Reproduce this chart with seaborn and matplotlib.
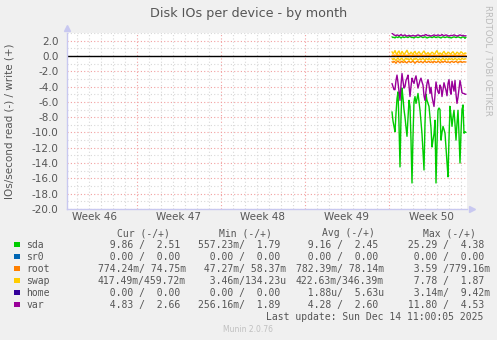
import numpy as np
import pandas as pd
import matplotlib
matplotlib.use("Agg")
import matplotlib.pyplot as plt
import matplotlib.dates as mdates
from matplotlib.patches import Rectangle
import seaborn as sns

W, H = 497, 340

# ---------------- data ----------------
series_start = "2025-12-08 06:00"
step = "2h"

sda_read = [7.3, 8.5, 9.2, 9.9, 7.5, 5.6, 4.7, 9.0, 14.5, 8.0, 4.2, 5.5, 7.0, 8.0, 9.3,
            10.5, 8.1, 5.8, 6.6, 11.0, 16.6, 10.5, 6.0, 5.3, 6.2, 5.6, 4.9, 6.0, 7.1, 8.6,
            10.2, 12.5, 14.9, 8.8, 5.0, 5.8, 6.2, 6.6, 8.0, 9.4, 11.9, 11.0, 10.2, 8.4, 16.6,
            11.5, 7.1, 6.8, 7.0, 11.0, 10.0, 9.2, 9.6, 10.1, 12.0, 13.9, 15.8, 10.8, 6.6, 7.8,
            9.2, 8.0, 7.1, 8.9, 11.0, 8.8, 7.1, 10.3, 14.0, 10.0, 7.0, 6.4, 10.1, 9.9, 10.0]
sda_write = [2.50, 2.40, 2.45, 2.35, 2.50, 2.45, 2.40, 2.55, 2.45, 2.35, 2.45, 2.50, 2.40, 2.45, 2.50,
             2.45, 2.40, 2.50, 2.55, 2.45, 2.40, 2.45, 2.35, 2.45, 2.50, 2.45, 2.40, 2.45, 2.50, 2.55,
             2.45, 2.40, 2.45, 2.50, 2.45, 2.35, 2.40, 2.45, 2.50, 2.45, 2.40, 2.45, 2.55, 2.45, 2.40,
             2.45, 2.50, 2.45, 2.40, 2.35, 2.45, 2.50, 2.45, 2.40, 2.45, 2.50, 2.45, 2.40, 2.45, 2.35,
             2.40, 2.45, 2.50, 2.45, 2.40, 2.45, 2.50, 2.45, 2.40, 2.35, 2.45, 2.50, 2.45, 2.30, 2.45]
root_read = [0.75, 0.85, 0.70, 0.80, 0.95, 0.75, 0.65, 0.80, 0.90, 0.75, 0.70, 0.85, 0.80, 0.70, 0.85,
             0.90, 0.75, 0.70, 0.80, 0.85, 0.75, 0.65, 0.80, 0.95, 0.80, 0.70, 0.75, 0.85, 0.80, 0.70,
             0.80, 0.90, 0.75, 0.65, 0.80, 0.85, 0.75, 0.70, 0.85, 0.80, 0.75, 0.90, 0.70, 0.75, 0.85,
             0.80, 0.70, 0.75, 0.90, 0.80, 0.70, 0.85, 0.75, 0.65, 0.80, 0.85, 0.75, 0.80, 0.90, 0.75,
             0.70, 0.80, 0.85, 0.75, 0.70, 0.80, 0.90, 0.75, 0.80, 0.70, 0.85, 0.80, 0.75, 0.80, 0.78]
root_write = [0.08, 0.07, 0.09, 0.08, 0.06, 0.08, 0.10, 0.07, 0.08, 0.09, 0.07, 0.08, 0.06, 0.09, 0.08,
              0.07, 0.09, 0.08, 0.06, 0.08, 0.07, 0.09, 0.10, 0.08, 0.07, 0.08, 0.09, 0.07, 0.08, 0.06,
              0.09, 0.08, 0.07, 0.08, 0.10, 0.07, 0.08, 0.09, 0.06, 0.08, 0.07, 0.08, 0.09, 0.08, 0.07,
              0.08, 0.06, 0.09, 0.08, 0.07, 0.08, 0.10, 0.07, 0.08, 0.09, 0.07, 0.08, 0.06, 0.08, 0.09,
              0.07, 0.08, 0.09, 0.08, 0.07, 0.06, 0.08, 0.09, 0.07, 0.08, 0.10, 0.08, 0.07, 0.08, 0.07]
swap_read = [0.35, 0.50, 0.30, 0.45, 0.60, 0.40, 0.25, 0.45, 0.55, 0.35, 0.30, 0.50, 0.65, 0.40, 0.30,
             0.45, 0.35, 0.55, 0.40, 0.30, 0.50, 0.60, 0.35, 0.45, 0.30, 0.40, 0.55, 0.45, 0.35, 0.50,
             0.40, 0.30, 0.45, 0.60, 0.35, 0.40, 0.50, 0.30, 0.45, 0.55, 0.40, 0.35, 0.50, 0.45, 0.30,
             0.40, 0.55, 0.35, 0.45, 0.60, 0.40, 0.30, 0.45, 0.50, 0.35, 0.40, 0.55, 0.30, 0.45, 0.40,
             0.35, 0.50, 0.45, 0.30, 0.40, 0.55, 0.40, 0.35, 0.50, 0.45, 0.30, 0.40, 0.45, 0.35, 0.40]
swap_write = [0.55, 0.30, 0.45, 0.70, 0.35, 0.20, 0.50, 0.65, 0.30, 0.25, 0.60, 0.40, 0.20, 0.35, 0.55,
              0.75, 0.40, 0.25, 0.30, 0.50, 0.35, 0.20, 0.45, 0.60, 0.30, 0.25, 0.40, 0.55, 0.35, 0.20,
              0.30, 0.50, 0.65, 0.35, 0.25, 0.30, 0.45, 0.30, 0.20, 0.35, 0.50, 0.40, 0.25, 0.30, 0.55,
              0.70, 0.35, 0.25, 0.40, 0.30, 0.20, 0.45, 0.60, 0.35, 0.25, 0.30, 0.50, 0.40, 0.30, 0.25,
              0.45, 0.55, 0.35, 0.20, 0.30, 0.50, 0.40, 0.25, 0.35, 0.55, 0.45, 0.30, 0.25, 0.40, 0.35]
var_read = [3.6, 4.0, 4.4, 4.4, 3.2, 2.5, 3.5, 4.6, 5.8, 3.8, 2.3, 3.3, 4.2, 4.0, 3.2,
            2.9, 2.5, 3.9, 5.3, 4.0, 2.9, 3.3, 3.6, 3.0, 2.6, 3.4, 4.2, 3.7, 3.2, 2.9,
            3.4, 3.8, 5.2, 5.8, 4.6, 3.6, 3.1, 3.8, 4.9, 4.1, 5.3, 6.0, 6.6, 5.1, 3.4,
            4.2, 4.7, 4.9, 3.8, 4.1, 5.3, 4.4, 3.5, 4.0, 4.5, 5.2, 3.6, 3.1, 4.4, 5.0,
            3.3, 4.0, 4.6, 3.2, 5.0, 6.2, 5.4, 4.3, 3.2, 3.9, 4.8, 4.9, 4.9, 5.0, 5.0]
var_write = [3.00, 2.85, 2.75, 2.70, 2.65, 2.75, 2.70, 2.65, 2.70, 2.80, 2.70, 2.65, 2.70, 2.75, 2.65,
             2.60, 2.65, 2.70, 2.65, 2.60, 2.65, 2.70, 2.65, 2.60, 2.65, 2.70, 2.75, 2.70, 2.65, 2.60,
             2.65, 2.70, 2.65, 2.75, 2.80, 2.70, 2.65, 2.70, 2.65, 2.60, 2.65, 2.70, 2.75, 2.70, 2.65,
             2.70, 2.75, 2.70, 2.65, 2.70, 2.80, 2.70, 2.65, 2.70, 2.75, 2.70, 2.65, 2.60, 2.65, 2.70,
             2.65, 2.70, 2.75, 2.70, 2.65, 2.60, 2.65, 2.70, 2.75, 2.70, 2.65, 2.70, 2.65, 2.60, 2.65]

devices = ["sda", "sr0", "root", "swap", "home", "var"]
colors = ["#00cc00", "#0066b3", "#ff8000", "#ffcc00", "#330099", "#990099"]
cur_vals = ["  9.86 /  2.51 ", "  0.00 /  0.00 ", "774.24m/ 74.75m", "417.49m/459.72m", "  0.00 /  0.00 ", "  4.83 /  2.66 "]
min_vals = ["557.23m/  1.79 ", "  0.00 /  0.00 ", " 47.27m/ 58.37m", "  3.46m/134.23u", "  0.00 /  0.00 ", "256.16m/  1.89 "]
avg_vals = ["  9.16 /  2.45 ", "  0.00 /  0.00 ", "782.39m/ 78.14m", "422.63m/346.39m", "  1.88u/  5.63u", "  4.28 /  2.60 "]
max_vals = [" 25.29 /  4.38 ", "  0.00 /  0.00 ", "  3.59 /779.16m", "  7.78 /  1.87 ", "  3.14m/  9.42m", " 11.80 /  4.53 "]
week_labels = ["Week 46", "Week 47", "Week 48", "Week 49", "Week 50"]
week_centers = ["2025-11-13 12:00", "2025-11-20 12:00", "2025-11-27 12:00", "2025-12-04 12:00", "2025-12-11 12:00"]

# ---------------- figure ----------------
sns.set_style("white")
plt.rcParams["font.family"] = ["DejaVu Sans"]

n = len(sda_read)
t = pd.date_range(series_start, periods=n, freq=step)

fig = plt.figure(figsize=(W / 100, H / 100), dpi=100, facecolor="#f0f0f0")
ax = fig.add_axes([67 / W, 1 - 209 / H, 400 / W, 176 / H])
ax.set_facecolor("white")

x0 = pd.Timestamp("2025-11-11 04:00")
x1 = pd.Timestamp("2025-12-14 12:00")

# grid
ax.xaxis.set_major_locator(mdates.WeekdayLocator(byweekday=mdates.MO))
ax.xaxis.set_minor_locator(mdates.DayLocator())
ax.set_yticks(np.arange(-20, 3, 2))
ax.set_yticks(np.arange(-20, 4, 1), minor=True)
ax.set_yticklabels([f"{v:.1f}" for v in np.arange(-20, 3, 2)])
ax.grid(which="major", color="#f2a0a0", linestyle=(0, (1, 2)), linewidth=0.8)
ax.grid(which="minor", color="#d8d8d8", linestyle=(0, (1, 2)), linewidth=0.8)
ax.set_axisbelow(True)
ax.tick_params(axis="x", which="both", length=0, labelbottom=False)
ax.tick_params(axis="y", which="major", length=3, color="#f2a0a0", labelsize=7.5,
               labelcolor="#555555", pad=3)
ax.tick_params(axis="y", which="minor", length=0)
for s in ["top", "right"]:
    ax.spines[s].set_visible(False)
for s in ["left", "bottom"]:
    ax.spines[s].set_color("#c8c8f0")
    ax.spines[s].set_linewidth(1.0)

ax.axhline(0, color="black", lw=1.0, zorder=2)

read_series = [sda_read, None, root_read, swap_read, None, var_read]
write_series = [sda_write, None, root_write, swap_write, None, var_write]
for name, col, rd, wr in zip(devices, colors, read_series, write_series):
    if rd is None:
        continue
    sns.lineplot(x=t, y=-np.array(rd), color=col, lw=1.0, ax=ax, zorder=3)
    sns.lineplot(x=t, y=np.array(wr), color=col, lw=1.0, ax=ax, zorder=3)
ax.set_xlim(x0, x1)
ax.set_ylim(-20, 3)
ax.set_xlabel("")
ax.set_ylabel("")

# axis arrows
ax.plot([0], [1.03], marker="^", color="#c8c8f0", markersize=4, transform=ax.transAxes, clip_on=False)
ax.plot([1.013], [0], marker=">", color="#c8c8f0", markersize=4, transform=ax.transAxes, clip_on=False)

# week labels
for lab, c in zip(week_labels, week_centers):
    ax.text(pd.Timestamp(c), -0.047, lab, transform=ax.get_xaxis_transform(),
            ha="center", va="center", fontsize=7.5, color="#555555")

# titles
fig.text(248.5 / W, 1 - 14 / H, "Disk IOs per device - by month", ha="center", va="center",
         fontsize=9.2, color="#555555")
fig.text(10 / W, 1 - 121 / H, "IOs/second read (-) / write (+)", rotation=90, ha="center",
         va="center", fontsize=7.5, color="#555555")
fig.text(488 / W, 1 - 5 / H, "RRDTOOL / TOBI OETIKER", rotation=270, ha="center", va="top",
         fontsize=6.2, color="#bbbbbb")

# legend table
mono = "DejaVu Sans Mono"
lc = "#555555"
fs = 7
hy = 233.5
for txt, xh in zip(["Cur (-/+)", "Min (-/+)", "Avg (-/+)", "Max (-/+)"], [117, 219, 322, 423]):
    fig.text(xh / W, 1 - hy / H, txt, family=mono, fontsize=fs, color=lc, va="center", ha="left")
row_y = [244.7, 256.6, 268.6, 280.6, 292.6, 304.6]
for i, name in enumerate(devices):
    y = row_y[i]
    fig.add_artist(Rectangle((14 / W, 1 - (y + 2.7) / H), 5.5 / W, 5.5 / H,
                             transform=fig.transFigure, facecolor=colors[i], edgecolor="none"))
    fig.text(26.5 / W, 1 - y / H, name, family=mono, fontsize=fs, color=lc, va="center", ha="left")
    for vals, xs in zip([cur_vals, min_vals, avg_vals, max_vals], [98, 198, 296, 402]):
        fig.text(xs / W, 1 - y / H, vals[i], family=mono, fontsize=fs, color=lc, va="center", ha="left")
fig.text(483 / W, 1 - 317.5 / H, "Last update: Sun Dec 14 11:00:05 2025", family=mono,
         fontsize=fs, color=lc, va="center", ha="right")
fig.text(248 / W, 1 - 329.5 / H, "Munin 2.0.76", fontsize=5.5, color="#c0c0c0", va="center", ha="center")

fig.savefig("out.png", dpi=100, facecolor=fig.get_facecolor())
